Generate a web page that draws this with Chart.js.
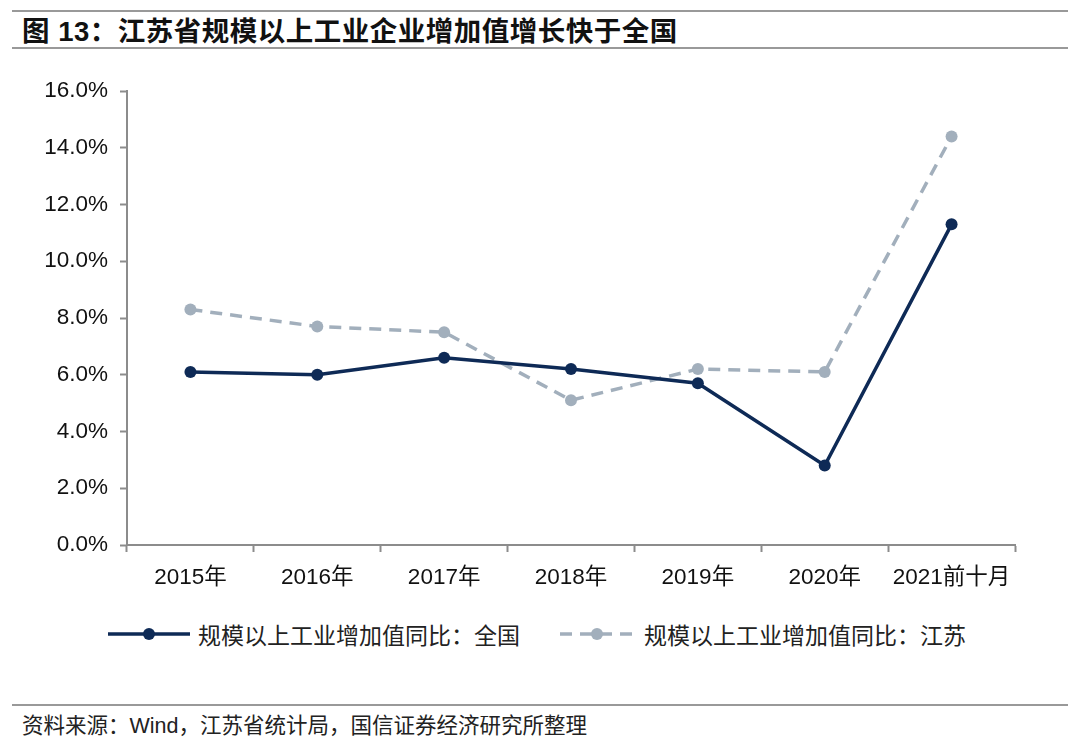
<!DOCTYPE html>
<html>
<head>
<meta charset="utf-8">
<script src="https://cdn.jsdelivr.net/npm/chart.js@4.4.1/dist/chart.umd.min.js"></script>
<style>
    body { margin: 0; background: #fff; font-family: "Liberation Sans", "Noto Sans CJK SC", sans-serif; }
    #page { position: relative; width: 1080px; height: 743px; overflow: hidden; }
    .rule { position: absolute; left: 12px; right: 12px; height: 2px; background: #999; }
    #title { position: absolute; left: 22px; top: 9px; font-size: 27.5px; font-weight: bold; color: #111;
             font-family: "Liberation Sans", "Noto Sans CJK SC", sans-serif; letter-spacing: 0.5px; }
    #chartBox { position: absolute; left: 0; top: 0; width: 1080px; height: 600px; }
    #legend { position: absolute; top: 617px; left: 0; width: 1080px; height: 30px; font-size: 23px; color: #222;
              font-family: "Liberation Sans", "Noto Sans CJK SC", sans-serif; }
    .item { position: absolute; top: 0; display: flex; align-items: center; }
    .item span { margin-left: 8px; }
    #source { position: absolute; left: 22px; top: 708px; font-size: 21.5px; color: #222;
              font-family: "Liberation Sans", "Noto Sans CJK SC", sans-serif; }
</style>
</head>
<body>
<div id="page">
    <div class="rule" style="top:10px;"></div>
    <div id="title">图 13：江苏省规模以上工业企业增加值增长快于全国</div>
    <div class="rule" style="top:47px;"></div>
    <div id="chartBox"><canvas id="lineChart"></canvas></div>
    <div id="legend">
        <div class="item" style="left:108px;">
            <svg width="82" height="30"><line x1="0" y1="15" x2="82" y2="15" stroke="#0e2a56" stroke-width="3.5"/><circle cx="41" cy="15" r="6" fill="#0e2a56"/></svg>
            <span>规模以上工业增加值同比：全国</span>
        </div>
        <div class="item" style="left:560px;">
            <svg width="76" height="30"><line x1="0" y1="15" x2="76" y2="15" stroke="#a2afbc" stroke-width="3.5" stroke-dasharray="12 8"/><circle cx="37" cy="15" r="6" fill="#a2afbc"/></svg>
            <span>规模以上工业增加值同比：江苏</span>
        </div>
    </div>
    <div class="rule" style="top:704px; height:1.5px;"></div>
    <div id="source">资料来源：Wind，江苏省统计局，国信证券经济研究所整理</div>
</div>
<script>
// Data
const categories = ['2015年', '2016年', '2017年', '2018年', '2019年', '2020年', '2021前十月'];
const nationalValues = [6.1, 6.0, 6.6, 6.2, 5.7, 2.8, 11.3];
const jiangsuValues = [8.3, 7.7, 7.5, 5.1, 6.2, 6.1, 14.4];
const yTicks = [0, 2, 4, 6, 8, 10, 12, 14, 16];

const navy = '#0e2a56';
const grey = '#a2afbc';
const axisColor = '#8c8c8c';
const tickFont = '"Liberation Sans", "Noto Sans CJK SC", sans-serif';

window.addEventListener('load', function () {
    const ctx = document.getElementById('lineChart');
    new Chart(ctx, {
        type: 'line',
        data: {
            labels: categories,
            datasets: [
                {
                    label: '规模以上工业增加值同比：全国',
                    data: nationalValues,
                    borderColor: navy,
                    backgroundColor: navy,
                    borderWidth: 3.5,
                    pointRadius: 6,
                    pointBorderWidth: 0,
                    tension: 0
                },
                {
                    label: '规模以上工业增加值同比：江苏',
                    data: jiangsuValues,
                    borderColor: grey,
                    backgroundColor: grey,
                    borderWidth: 3.5,
                    borderDash: [12, 8],
                    pointRadius: 6,
                    pointBorderWidth: 0,
                    tension: 0
                }
            ]
        },
        options: {
            responsive: true,
            maintainAspectRatio: false,
            animation: false,
            layout: { padding: { left: 0, right: 65, top: 91, bottom: 0 } },
            plugins: {
                legend: { display: false },
                tooltip: { enabled: false }
            },
            scales: {
                x: {
                    offset: true,
                    grid: {
                        offset: true,
                        drawOnChartArea: false,
                        drawTicks: true,
                        tickLength: 7,
                        tickColor: axisColor,
                        tickWidth: 2
                    },
                    border: { color: axisColor, width: 2 },
                    ticks: {
                        color: '#111',
                        padding: 12,
                        maxRotation: 0,
                        font: { size: 22.5, family: tickFont }
                    },
                    afterFit: function (scale) { scale.height = 55; }
                },
                y: {
                    min: 0,
                    max: 16,
                    afterBuildTicks: function (scale) {
                        scale.ticks = yTicks.map(v => ({ value: v }));
                    },
                    grid: {
                        drawOnChartArea: false,
                        drawTicks: true,
                        tickLength: 7,
                        tickColor: axisColor,
                        tickWidth: 2
                    },
                    border: { color: axisColor, width: 2 },
                    ticks: {
                        color: '#111',
                        padding: 12,
                        font: { size: 22.5, family: tickFont },
                        callback: function (value) { return value.toFixed(1) + '%'; }
                    },
                    afterFit: function (scale) { scale.width = 127; }
                }
            }
        }
    });
});
</script>
</body>
</html>
